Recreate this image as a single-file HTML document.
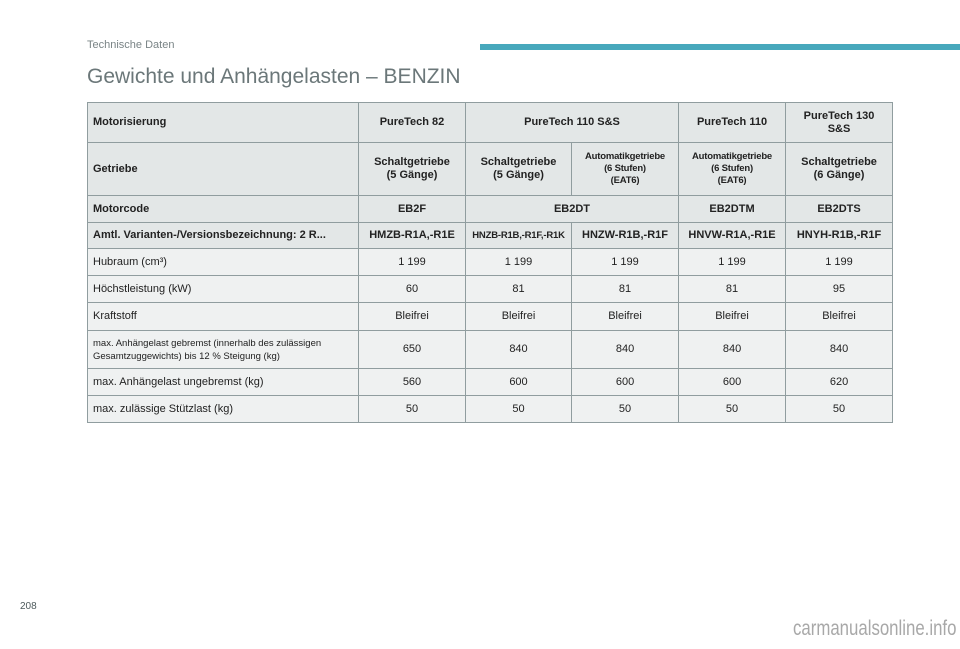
<!DOCTYPE html>
<html><head><meta charset="utf-8"><style>
body{margin:0;width:960px;height:649px;background:#fff;position:relative;font-family:"Liberation Sans",sans-serif;overflow:hidden}
.hd{position:absolute;left:87px;top:39px;font-size:11px;color:#7a8486}
.bar{position:absolute;left:480px;top:44px;width:480px;height:6px;background:#47a8bc}
.title{position:absolute;left:87px;top:65px;font-size:21px;color:#6b7779}
table{position:absolute;left:87px;top:102px;border-collapse:collapse;table-layout:fixed;width:805px}
td{border:1px solid #909d9f;background:#eff1f1;font-size:11px;color:#222;text-align:center;padding:0 4px;line-height:13px}
tr.h td{background:#e3e7e7;font-weight:bold}
td.l{text-align:left;padding-left:5px}
.sm{font-size:9.5px;letter-spacing:-0.2px;line-height:12px}
.pg{position:absolute;left:20px;top:601px;font-size:10px;color:#4d5a5c}
.wm{position:absolute;left:793px;top:617px;font-size:21px;color:#a8a8a8;transform:scaleX(0.8);transform-origin:left top;white-space:nowrap}
</style></head><body>
<div class="hd">Technische Daten</div>
<div class="bar"></div>
<div class="title">Gewichte und Anhängelasten – BENZIN</div>
<table>
<colgroup><col style="width:271px"><col style="width:107px"><col style="width:106px"><col style="width:107px"><col style="width:107px"><col style="width:107px"></colgroup>
<tr class="h" style="height:40px"><td class="l">Motorisierung</td><td>PureTech 82</td><td colspan="2">PureTech 110 S&amp;S</td><td>PureTech 110</td><td>PureTech 130<br>S&amp;S</td></tr>
<tr class="h" style="height:53px"><td class="l">Getriebe</td><td>Schaltgetriebe<br>(5 Gänge)</td><td>Schaltgetriebe<br>(5 Gänge)</td><td class="sm">Automatikgetriebe<br>(6 Stufen)<br>(EAT6)</td><td class="sm">Automatikgetriebe<br>(6 Stufen)<br>(EAT6)</td><td>Schaltgetriebe<br>(6 Gänge)</td></tr>
<tr class="h" style="height:27px"><td class="l">Motorcode</td><td>EB2F</td><td colspan="2">EB2DT</td><td>EB2DTM</td><td>EB2DTS</td></tr>
<tr class="h" style="height:26px"><td class="l">Amtl. Varianten-/Versionsbezeichnung: 2 R...</td><td>HMZB-R1A,-R1E</td><td class="sm">HNZB-R1B,-R1F,-R1K</td><td>HNZW-R1B,-R1F</td><td>HNVW-R1A,-R1E</td><td>HNYH-R1B,-R1F</td></tr>
<tr style="height:27px"><td class="l">Hubraum (cm³)</td><td>1 199</td><td>1 199</td><td>1 199</td><td>1 199</td><td>1 199</td></tr>
<tr style="height:27px"><td class="l">Höchstleistung (kW)</td><td>60</td><td>81</td><td>81</td><td>81</td><td>95</td></tr>
<tr style="height:28px"><td class="l">Kraftstoff</td><td>Bleifrei</td><td>Bleifrei</td><td>Bleifrei</td><td>Bleifrei</td><td>Bleifrei</td></tr>
<tr style="height:38px"><td class="l" style="font-size:9.5px">max. Anhängelast gebremst (innerhalb des zulässigen<br>Gesamtzuggewichts) bis 12 % Steigung (kg)</td><td>650</td><td>840</td><td>840</td><td>840</td><td>840</td></tr>
<tr style="height:27px"><td class="l">max. Anhängelast ungebremst (kg)</td><td>560</td><td>600</td><td>600</td><td>600</td><td>620</td></tr>
<tr style="height:27px"><td class="l">max. zulässige Stützlast (kg)</td><td>50</td><td>50</td><td>50</td><td>50</td><td>50</td></tr>
</table>
<div class="pg">208</div>
<div class="wm">carmanualsonline.info</div>
</body></html>
